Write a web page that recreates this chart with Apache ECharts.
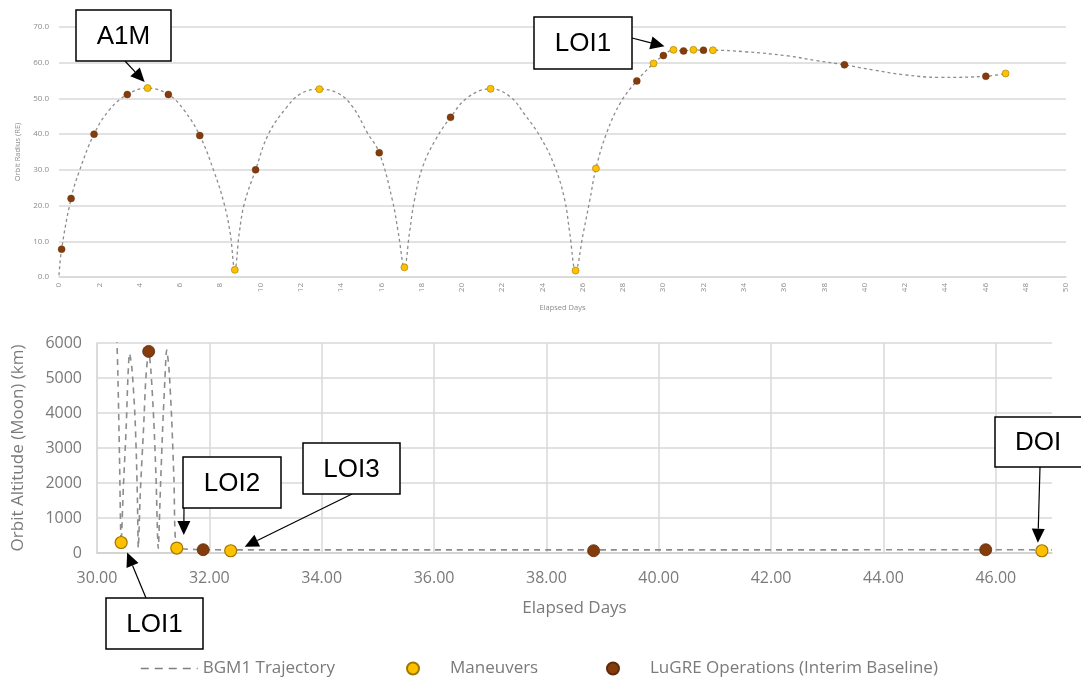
<!DOCTYPE html>
<html>
<head>
<meta charset="utf-8">
<script src="https://cdn.jsdelivr.net/npm/echarts@6/dist/echarts.min.js"></script>
<style>
  html, body { margin: 0; padding: 0; background: #ffffff; }
  #chart { width: 1081px; height: 681px; }
</style>
</head>
<body>
<div id="chart"></div>
<script>
// ---- Earth phasing orbits: elapsed days vs. orbit radius (Earth radii) ----
const earthTrajDays = [
  0.0, 0.13, 0.6, 1.0, 1.74, 2.5, 3.39, 4.4, 5.43, 6.2, 6.99, 7.7, 8.2, 8.5, 8.73,
  8.95, 9.2, 9.76, 10.4, 11.3, 12.0, 12.93, 13.9, 14.6, 15.3, 15.9, 16.55, 16.85, 17.15,
  17.4, 17.65, 18.06, 18.7, 19.44, 20.3, 21.43, 22.4, 23.12, 23.87, 24.62, 25.11, 25.36, 25.65,
  26.03, 26.36, 26.66, 27.19, 27.9, 28.69, 29.52, 30.01, 30.51, 31.01, 31.5, 32.0, 32.47,
  34.0, 36.2, 37.6, 39.0, 40.5, 42.0, 43.7, 46.02, 47.0
];
const earthTrajRadius = [
  0.5, 7.8, 22.0, 29.5, 40.0, 46.8, 51.1, 52.9, 51.1, 46.8, 39.6, 29.5, 20.5, 12.3, 2.0,
  12.3, 20.5, 30.0, 40.0, 47.5, 51.3, 52.6, 51.3, 47.5, 40.5, 34.8, 21.6, 12.3, 2.7,
  12.3, 21.6, 30.9, 38.5, 44.7, 50.3, 52.7, 50.5, 45.5, 39.5, 30.9, 21.6, 12.3, 1.8,
  12.3, 21.6, 30.4, 40.3, 49.0, 54.9, 59.8, 62.0, 63.6, 63.3, 63.6, 63.5, 63.5,
  63.1, 61.9, 60.6, 59.4, 57.9, 56.6, 55.9, 56.2, 57.0
];
const earthManeuverDays   = [4.4, 8.73, 12.93, 17.15, 21.43, 25.65, 26.66, 29.52, 30.51, 31.5, 32.47, 47.0];
const earthManeuverRadius = [52.9, 2.0, 52.6, 2.7, 52.7, 1.8, 30.4, 59.8, 63.6, 63.6, 63.5, 57.0];
const earthOpsDays   = [0.13, 0.6, 1.74, 3.39, 5.43, 6.99, 9.76, 15.9, 19.44, 28.69, 30.01, 31.01, 32.0, 39.0, 46.02];
const earthOpsRadius = [7.8, 22.0, 40.0, 51.1, 51.1, 39.6, 30.0, 34.8, 44.7, 54.9, 62.0, 63.3, 63.5, 59.4, 56.2];

// ---- Lunar orbit: elapsed days vs. altitude above the Moon (km) ----
const moonTrajDays = [
  30.34, 30.37, 30.40, 30.43,
  30.47, 30.52, 30.55, 30.58, 30.62, 30.67, 30.70, 30.72, 30.735,
  30.77, 30.83, 30.87, 30.92, 30.96, 31.01, 31.05, 31.09,
  31.13, 31.17, 31.21, 31.24, 31.28, 31.33, 31.37, 31.42,
  31.6, 31.89, 32.38, 34.0, 36.0, 38.84, 41.0, 43.0, 45.82, 46.82, 47.0
];
const moonTrajAlt = [
  6800, 5200, 2800, 300,
  1900, 3600, 5000, 5700, 5300, 4100, 2800, 1500, 150,
  1700, 3600, 5000, 5760, 5200, 3800, 2200, 130,
  1900, 3600, 5000, 5800, 5300, 3800, 2100, 142,
  110, 95, 90, 90, 90, 90, 90, 90, 95, 90, 90
];
const moonManeuverDays = [30.43, 31.42, 32.38, 46.82];
const moonManeuverAlt  = [300, 142, 65, 65];
const moonOpsDays = [30.92, 31.89, 38.84, 45.82];
const moonOpsAlt  = [5760, 94, 65, 94];

// Axis ranges: [min, max, step]
const earthDayRange    = [0, 50, 2];
const earthRadiusRange = [0, 70, 10];
const moonDayRange     = [30, 47, 2];
const moonAltRange     = [0, 6000, 1000];

const seriesNames = ['BGM1 Trajectory', 'Maneuvers', 'LuGRE Operations (Interim Baseline)'];

// Callouts refer to a maneuver by panel and index
const callouts = [
  { text: 'A1M',  panel: 'earth', index: 0 },
  { text: 'LOI1', panel: 'earth', index: 8 },
  { text: 'LOI1', panel: 'moon',  index: 0 },
  { text: 'LOI2', panel: 'moon',  index: 1 },
  { text: 'LOI3', panel: 'moon',  index: 2 },
  { text: 'DOI',  panel: 'moon',  index: 3 }
];

// Callout placement in pixels: box [x, y, w, h], arrow tail, arrow-tip offset from the marker
const calloutLayout = [
  { box: [76, 10, 95, 51],   tail: [125, 61],  tipOffset: [-3, -6] },
  { box: [534, 17, 98, 52],  tail: [632, 38],  tipOffset: [-9, -3.5] },
  { box: [106, 598, 97, 51], tail: [146, 598], tipOffset: [6, 10] },
  { box: [183, 457, 98, 51], tail: [184, 508], tipOffset: [7, -13] },
  { box: [303, 443, 97, 51], tail: [352, 494], tipOffset: [14, -4] },
  { box: [995, 417, 90, 50], tail: [1040, 467], tipOffset: [-4, -8] }
];

const pairs = (xs, ys) => xs.map((x, i) => [x, ys[i]]);

const chart = echarts.init(document.getElementById('chart'), null, { renderer: 'canvas' });

const smallAxisText = { color: '#8c8c8c', fontSize: 8, fontFamily: 'Open Sans' };
const bigAxisText = { color: '#7a7a7a', fontSize: 16, fontFamily: 'Open Sans' };
const legendText = { color: '#7a7a7a', fontSize: 17, fontFamily: 'Open Sans' };
const gridGray = '#d9d9d9';

const YELLOW = '#FFC000', YELLOW_EDGE = '#a07800';
const BROWN = '#843C0C', BROWN_EDGE = '#5e2a08';

const option = {
  backgroundColor: '#ffffff',
  animation: false,
  grid: [
    { left: 59, right: 15, top: 27, bottom: 404 },
    { left: 97, right: 29, top: 343, bottom: 128 }
  ],
  xAxis: [
    {
      gridIndex: 0, type: 'value',
      min: earthDayRange[0], max: earthDayRange[1], interval: earthDayRange[2],
      name: 'Elapsed Days', nameLocation: 'middle', nameGap: 27,
      nameTextStyle: { color: '#8c8c8c', fontSize: 7.5, fontFamily: 'Open Sans' },
      axisLine: { show: true, lineStyle: { color: gridGray, width: 1.5 } },
      axisTick: { show: false },
      splitLine: { show: false },
      axisLabel: Object.assign({ rotate: 90, margin: 6 }, smallAxisText)
    },
    {
      gridIndex: 1, type: 'value',
      min: moonDayRange[0], max: moonDayRange[1], interval: moonDayRange[2],
      name: 'Elapsed Days', nameLocation: 'middle', nameGap: 47,
      nameTextStyle: { color: '#7a7a7a', fontSize: 17, fontFamily: 'Open Sans' },
      axisLine: { show: true, lineStyle: { color: '#cfcfcf', width: 1.5 } },
      axisTick: { show: false },
      splitLine: {
        show: true,
        lineStyle: {
          color: [gridGray, gridGray, gridGray, gridGray, gridGray, gridGray, gridGray, gridGray, gridGray, 'rgba(0,0,0,0)'],
          width: 1.5
        }
      },
      axisLabel: Object.assign({
        margin: 17, showMaxLabel: false,
        formatter: v => v.toFixed(2)
      }, bigAxisText)
    }
  ],
  yAxis: [
    {
      gridIndex: 0, type: 'value',
      min: earthRadiusRange[0], max: earthRadiusRange[1], interval: earthRadiusRange[2],
      name: 'Orbit Radius (RE)', nameLocation: 'middle', nameGap: 37,
      nameTextStyle: { color: '#8c8c8c', fontSize: 7.5, fontFamily: 'Open Sans' },
      axisLine: { show: false }, axisTick: { show: false },
      splitLine: { show: true, lineStyle: { color: gridGray, width: 1.5 } },
      axisLabel: Object.assign({ margin: 10, formatter: v => v.toFixed(1) }, smallAxisText)
    },
    {
      gridIndex: 1, type: 'value',
      min: moonAltRange[0], max: moonAltRange[1], interval: moonAltRange[2],
      name: 'Orbit Altitude (Moon) (km)', nameLocation: 'middle', nameGap: 70,
      nameTextStyle: { color: '#7a7a7a', fontSize: 17, fontFamily: 'Open Sans' },
      axisLine: { show: true, lineStyle: { color: gridGray, width: 1.5 } },
      axisTick: { show: false },
      splitLine: { show: true, lineStyle: { color: gridGray, width: 1.5 } },
      axisLabel: Object.assign({ margin: 15, formatter: v => String(v) }, bigAxisText)
    }
  ],
  legend: [
    {
      data: [seriesNames[0]], left: 135, top: 655,
      itemWidth: 57, itemHeight: 12,
      lineStyle: { color: '#7f7f7f', width: 1.5, type: [8, 6] },
      itemStyle: { color: 'rgba(0,0,0,0)', borderWidth: 0 },
      textStyle: legendText,
      selectedMode: false
    },
    {
      data: [{ name: seriesNames[1], icon: 'circle' }], left: 401, top: 655,
      itemWidth: 64, itemHeight: 12,
      textStyle: legendText,
      selectedMode: false
    },
    {
      data: [{ name: seriesNames[2], icon: 'circle' }], left: 601, top: 655,
      itemWidth: 64, itemHeight: 12,
      textStyle: legendText,
      selectedMode: false
    }
  ],
  series: [
    {
      name: seriesNames[0], type: 'line', xAxisIndex: 0, yAxisIndex: 0,
      data: pairs(earthTrajDays, earthTrajRadius),
      smooth: 0.4, symbol: 'none', showSymbol: false, z: 2,
      itemStyle: { color: '#8c8c8c' },
      lineStyle: { color: '#8c8c8c', width: 1.3, type: [3, 3] }
    },
    {
      name: seriesNames[1], type: 'scatter', xAxisIndex: 0, yAxisIndex: 0,
      data: pairs(earthManeuverDays, earthManeuverRadius),
      symbolSize: 7, z: 4,
      itemStyle: { color: YELLOW, borderColor: YELLOW_EDGE, borderWidth: 0.6, opacity: 1 }
    },
    {
      name: seriesNames[2], type: 'scatter', xAxisIndex: 0, yAxisIndex: 0,
      data: pairs(earthOpsDays, earthOpsRadius),
      symbolSize: 7, z: 4,
      itemStyle: { color: BROWN, borderColor: BROWN_EDGE, borderWidth: 0.4, opacity: 1 }
    },
    {
      name: seriesNames[0], type: 'line', xAxisIndex: 1, yAxisIndex: 1,
      data: pairs(moonTrajDays, moonTrajAlt),
      smooth: 0.25, symbol: 'none', showSymbol: false, z: 2, clip: true,
      itemStyle: { color: '#8c8c8c' },
      lineStyle: { color: '#8c8c8c', width: 1.6, type: [6, 5] }
    },
    {
      name: seriesNames[1], type: 'scatter', xAxisIndex: 1, yAxisIndex: 1,
      data: pairs(moonManeuverDays, moonManeuverAlt),
      symbolSize: 12, z: 4,
      itemStyle: { color: YELLOW, borderColor: YELLOW_EDGE, borderWidth: 1.2, opacity: 1 }
    },
    {
      name: seriesNames[2], type: 'scatter', xAxisIndex: 1, yAxisIndex: 1,
      data: pairs(moonOpsDays, moonOpsAlt),
      symbolSize: 12, z: 4,
      itemStyle: { color: BROWN, borderColor: BROWN_EDGE, borderWidth: 0.8, opacity: 1 }
    }
  ]
};

chart.setOption(option);

// Callout boxes with arrows pointing at the labelled maneuvers
function buildCallouts() {
  const elements = [];
  callouts.forEach((c, i) => {
    const lay = calloutLayout[i];
    const grid = c.panel === 'earth' ? 0 : 1;
    const xs = c.panel === 'earth' ? earthManeuverDays : moonManeuverDays;
    const ys = c.panel === 'earth' ? earthManeuverRadius : moonManeuverAlt;
    const p = chart.convertToPixel({ gridIndex: grid }, [xs[c.index], ys[c.index]]);
    const tip = [p[0] + lay.tipOffset[0], p[1] + lay.tipOffset[1]];
    const tail = lay.tail;
    const dx = tip[0] - tail[0], dy = tip[1] - tail[1];
    const len = Math.sqrt(dx * dx + dy * dy) || 1;
    const ux = dx / len, uy = dy / len;
    const headLen = 14, headHalf = 6.5;
    const base = [tip[0] - ux * headLen, tip[1] - uy * headLen];
    const nx = -uy, ny = ux;
    const [bx, by, bw, bh] = lay.box;

    elements.push({
      type: 'line', z: 100,
      shape: { x1: tail[0], y1: tail[1], x2: base[0], y2: base[1] },
      style: { stroke: '#000000', lineWidth: 1.2 }
    });
    elements.push({
      type: 'polygon', z: 100,
      shape: { points: [tip, [base[0] + nx * headHalf, base[1] + ny * headHalf], [base[0] - nx * headHalf, base[1] - ny * headHalf]] },
      style: { fill: '#000000' }
    });
    elements.push({
      type: 'rect', z: 101,
      shape: { x: bx, y: by, width: bw, height: bh },
      style: { fill: '#ffffff', stroke: '#000000', lineWidth: 1.5 }
    });
    const textX = c.text === 'DOI' ? bx + 43 : bx + bw / 2;
    elements.push({
      type: 'text', z: 102,
      x: textX, y: by + bh / 2 + 1,
      style: {
        text: c.text, fill: '#000000',
        font: '26px "Liberation Sans", Arial, sans-serif',
        align: 'center', verticalAlign: 'middle'
      }
    });
  });
  chart.setOption({ graphic: { elements: elements } });
}
buildCallouts();
</script>
</body>
</html>
